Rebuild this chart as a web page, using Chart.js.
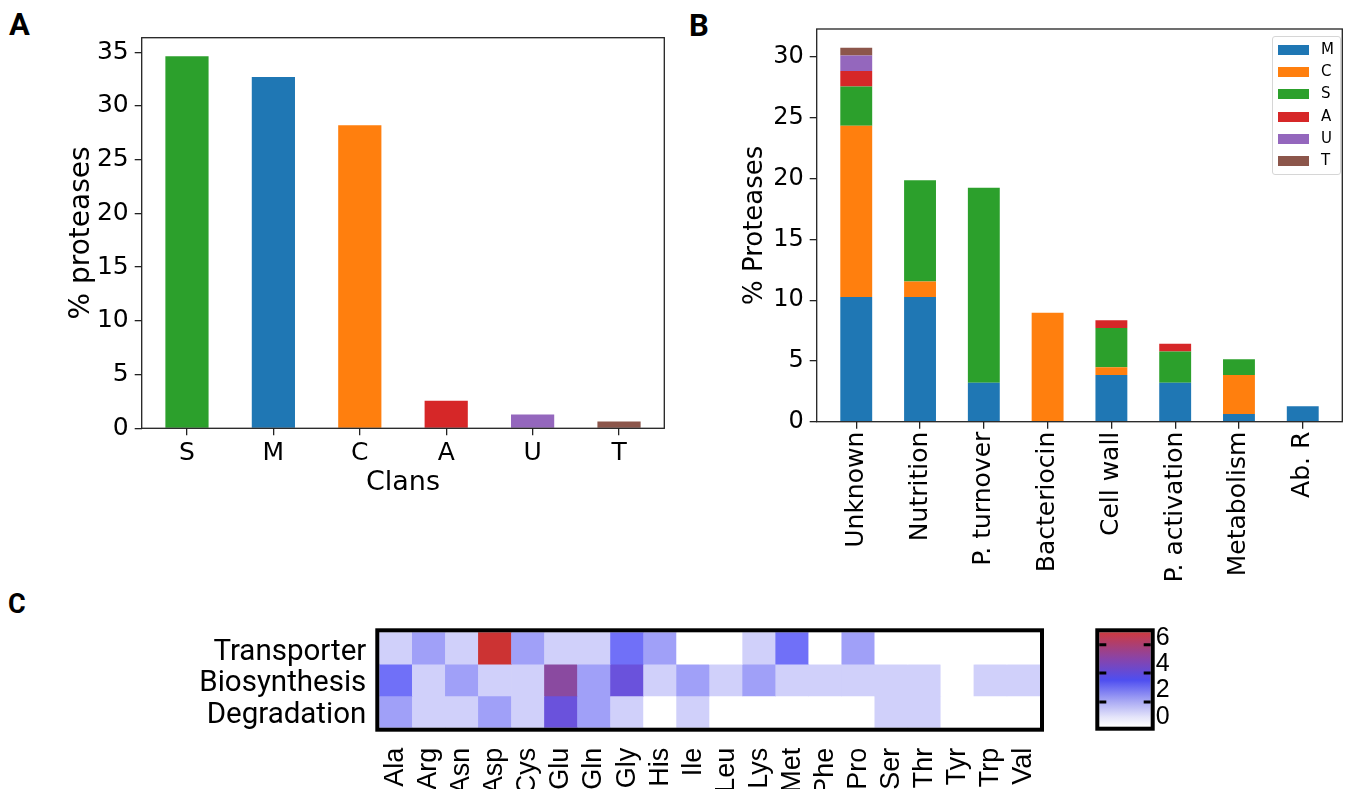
<!DOCTYPE html>
<html>
<head>
<meta charset="utf-8">
<script src="https://cdn.jsdelivr.net/npm/chart.js@4.4.1/dist/chart.umd.min.js"></script>
<style>
  html, body { margin: 0; padding: 0; background: #fff; }
  body { width: 1350px; height: 789px; position: relative; overflow: hidden; }
  canvas { position: absolute; }
  .panel { position: absolute; font-family: Roboto, sans-serif; font-weight: 700; line-height: 1; color: #000; }
  #legendB { position: absolute; left: 1272px; top: 36px; width: 69px; height: 139px; box-sizing: border-box;
             border: 1px solid #d6d6d6; border-radius: 3px; background: rgba(255,255,255,0.8); }
  .lg-patch { position: absolute; left: 5px; width: 31px; height: 10px; }
  .lg-text { position: absolute; left: 48px; font-family: 'DejaVu Sans', sans-serif; font-size: 15px; line-height: 1; }
</style>
</head>
<body>
<div class="panel" style="left:9px;top:9px;font-size:31px">A</div>
<div class="panel" style="left:689px;top:10px;font-size:31px">B</div>
<div class="panel" style="left:8px;top:591px;font-size:27px">C</div>

<canvas id="chartA" width="680" height="500" style="left:0;top:0"></canvas>
<canvas id="chartB" width="670" height="600" style="left:680px;top:0"></canvas>
<canvas id="chartC" width="1070" height="209" style="left:0;top:580px"></canvas>
<canvas id="chartBar" width="280" height="209" style="left:1070px;top:580px"></canvas>
<div id="legendB"></div>

<script>
// panel A: share of proteases per clan
const clans = ['S', 'M', 'C', 'A', 'U', 'T'];
const clanPercent = [34.62, 32.69, 28.21, 2.56, 1.28, 0.64];
const yTicksA = [0, 5, 10, 15, 20, 25, 30, 35];

// panel B: role of proteases, stacked by clan
const roles = ['Unknown', 'Nutrition', 'P. turnover', 'Bacteriocin', 'Cell wall', 'P. activation', 'Metabolism', 'Ab. R'];
const stackOrder = ['M', 'C', 'S', 'A', 'U', 'T'];
const roleM = [10.26, 10.26, 3.21, 0, 3.85, 3.21, 0.64, 1.28];
const roleC = [14.10, 1.28, 0, 8.97, 0.64, 0, 3.21, 0];
const roleS = [3.21, 8.33, 16.03, 0, 3.21, 2.56, 1.28, 0];
const roleA = [1.28, 0, 0, 0, 0.64, 0.64, 0, 0];
const roleU = [1.28, 0, 0, 0, 0, 0, 0, 0];
const roleT = [0.64, 0, 0, 0, 0, 0, 0, 0];
const yTicksB = [0, 5, 10, 15, 20, 25, 30];

// panel C: amino acid heatmap
const aminoAcids = ['Ala', 'Arg', 'Asn', 'Asp', 'Cys', 'Glu', 'Gln', 'Gly', 'His', 'Ile',
                    'Leu', 'Lys', 'Met', 'Phe', 'Pro', 'Ser', 'Thr', 'Tyr', 'Trp', 'Val'];
const heatRowNames = ['Transporter', 'Biosynthesis', 'Degradation'];
const transporter  = [1, 2, 1, 6, 2, 1, 1, 3, 2, 0, 0, 1, 3, 0, 2, 0, 0, 0, 0, 0];
const biosynthesis = [3, 1, 2, 1, 1, 5, 2, 4, 1, 2, 1, 2, 1, 1, 1, 1, 1, 0, 1, 1];
const degradation  = [2, 1, 1, 2, 1, 4, 2, 1, 0, 1, 0, 0, 0, 0, 0, 1, 1, 0, 0, 0];
const cbTicks = [0, 2, 4, 6];
const cbMin = -0.74, cbMax = 6.42;

// styles
const clanColor = { M: '#1f77b4', C: '#ff7f0e', S: '#2ca02c', A: '#d62728', U: '#9467bd', T: '#8c564b' };
const cellStops = [[0, '#ffffff'], [1, '#d0d0fa'], [2, '#a0a0f8'], [3, '#7070f8'], [4, '#6a52dc'], [5, '#8a4aa0'], [6, '#cc3333']];
const cbStops = [[-0.74, '#ffffff'], [0, '#e4e4fa'], [1.2, '#a8a8f4'], [2.8, '#4e4ef0'], [4.4, '#8844aa'], [6.42, '#cc3a40']];
const cbMarks = [1.14, 3.34, 5.47];
const dv = "'DejaVu Sans'";

Chart.defaults.color = '#000';

function hexRgb(h) {
  return [1, 3, 5].map(i => parseInt(h.slice(i, i + 2), 16));
}

function cellColor(v) {
  if (v <= cellStops[0][0]) return cellStops[0][1];
  for (let i = 1; i < cellStops.length; i++) {
    const [v1, c1] = cellStops[i];
    if (v <= v1) {
      const [v0, c0] = cellStops[i - 1];
      const t = (v - v0) / (v1 - v0);
      const a = hexRgb(c0), b = hexRgb(c1);
      return 'rgb(' + a.map((x, k) => Math.round(x + (b[k] - x) * t)).join(',') + ')';
    }
  }
  return cellStops[cellStops.length - 1][1];
}

// box around the plot area, like matplotlib spines
const framePlugin = {
  id: 'frame',
  afterDatasetsDraw(chart, args, opts) {
    const { ctx, chartArea: a } = chart;
    const o = opts.outset || 0;
    ctx.save();
    ctx.strokeStyle = opts.color;
    ctx.lineWidth = opts.width;
    ctx.strokeRect(a.left - o, a.top - o, a.right - a.left + 2 * o, a.bottom - a.top + 2 * o);
    ctx.restore();
  }
};

// little black marks on the inside edges of the colour bar
const marksPlugin = {
  id: 'cbMarks',
  afterDatasetsDraw(chart, args, opts) {
    const { ctx, chartArea: a, scales } = chart;
    ctx.save();
    ctx.strokeStyle = '#000';
    ctx.lineWidth = 3;
    opts.values.forEach(v => {
      const py = scales.y.getPixelForValue(v);
      ctx.beginPath();
      ctx.moveTo(a.left, py); ctx.lineTo(a.left + 7, py);
      ctx.moveTo(a.right - 7, py); ctx.lineTo(a.right, py);
      ctx.stroke();
    });
    ctx.restore();
  }
};

const tickGrid = { display: true, drawOnChartArea: false, drawTicks: true, tickLength: 7, color: '#222', lineWidth: 1.3, offset: false };

// ---- A ----
new Chart(document.getElementById('chartA'), {
  type: 'bar',
  data: {
    datasets: [{
      data: clans.map((c, i) => ({ x: i, y: clanPercent[i] })),
      backgroundColor: clans.map(c => clanColor[c]),
      barPercentage: 0.5,
      categoryPercentage: 1,
      inflateAmount: 0
    }]
  },
  options: {
    responsive: false,
    devicePixelRatio: 1,
    animation: false,
    layout: { padding: { left: 64.5, top: 37.7, right: 15.7, bottom: 0.5 } },
    scales: {
      x: {
        type: 'linear', min: -0.524, max: 5.524, bounds: 'data', offset: false,
        afterBuildTicks: s => { s.ticks = clans.map((c, i) => ({ value: i })); },
        afterFit: s => { s.height = 71.2; },
        ticks: { callback: v => clans[v], font: { family: dv, size: 25 }, padding: 3, maxRotation: 0, autoSkip: false },
        grid: tickGrid,
        border: { display: false },
        title: { display: true, text: 'Clans', font: { family: dv, size: 27 }, padding: 0 }
      },
      y: {
        min: 0, max: 36.35, bounds: 'data',
        afterBuildTicks: s => { s.ticks = yTicksA.map(v => ({ value: v })); },
        afterFit: s => { s.width = 77.2; },
        ticks: { font: { family: dv, size: 25 }, padding: 6, autoSkip: false },
        grid: tickGrid,
        border: { display: false },
        title: { display: true, text: '% proteases', font: { family: dv, size: 28 }, padding: 0 }
      }
    },
    plugins: {
      legend: { display: false },
      tooltip: { enabled: false },
      frame: { color: '#222', width: 1.3 }
    }
  },
  plugins: [framePlugin]
});

// ---- B ----
const roleSeries = { M: roleM, C: roleC, S: roleS, A: roleA, U: roleU, T: roleT };
new Chart(document.getElementById('chartB'), {
  type: 'bar',
  data: {
    datasets: stackOrder.map(k => ({
      label: k,
      data: roleSeries[k].map((v, i) => ({ x: i, y: v })),
      backgroundColor: clanColor[k],
      barPercentage: 0.5,
      categoryPercentage: 1,
      inflateAmount: 0
    }))
  },
  options: {
    responsive: false,
    devicePixelRatio: 1,
    animation: false,
    layout: { padding: { left: 60, top: 29, right: 7.7, bottom: 0 } },
    scales: {
      x: {
        type: 'linear', min: -0.62, max: 7.62, bounds: 'data', offset: false, stacked: true,
        afterBuildTicks: s => { s.ticks = roles.map((r, i) => ({ value: i })); },
        afterFit: s => { s.height = 178.3; },
        ticks: { callback: v => roles[v], font: { family: dv, size: 25 }, padding: 3, minRotation: 90, maxRotation: 90, autoSkip: false },
        grid: tickGrid,
        border: { display: false }
      },
      y: {
        min: 0, max: 32.31, bounds: 'data', stacked: true,
        afterBuildTicks: s => { s.ticks = yTicksB.map(v => ({ value: v })); },
        afterFit: s => { s.width = 76.7; },
        ticks: { font: { family: dv, size: 24 }, padding: 6, autoSkip: false },
        grid: tickGrid,
        border: { display: false },
        title: { display: true, text: '% Proteases', font: { family: dv, size: 26 }, padding: 0 }
      }
    },
    plugins: {
      legend: { display: false },
      tooltip: { enabled: false },
      frame: { color: '#222', width: 1.3 }
    }
  },
  plugins: [framePlugin]
});

// legend for B, inside the plot area at the upper right
const legendBox = document.getElementById('legendB');
stackOrder.forEach((k, i) => {
  const cy = 13 + i * 22.2;
  const patch = document.createElement('div');
  patch.className = 'lg-patch';
  patch.style.top = (cy - 5) + 'px';
  patch.style.background = clanColor[k];
  const txt = document.createElement('div');
  txt.className = 'lg-text';
  txt.style.top = (cy - 8) + 'px';
  txt.textContent = k;
  legendBox.appendChild(patch);
  legendBox.appendChild(txt);
});

// ---- C: heatmap ----
const heatRows = [transporter, biosynthesis, degradation];
new Chart(document.getElementById('chartC'), {
  type: 'bar',
  data: {
    labels: aminoAcids,
    datasets: heatRows.map((vals, r) => ({
      data: vals.map(() => [r - 0.5, r + 0.5]),
      backgroundColor: vals.map(cellColor),
      grouped: false,
      barPercentage: 1,
      categoryPercentage: 1
    }))
  },
  options: {
    responsive: false,
    devicePixelRatio: 1,
    animation: false,
    layout: { padding: { left: 0, top: 52.3, right: 30, bottom: 0 } },
    scales: {
      x: {
        type: 'category', offset: true,
        afterFit: s => { s.height = 61.3; },
        ticks: { font: { family: "'Liberation Sans'", size: 27 }, padding: 12, minRotation: 90, maxRotation: 90, autoSkip: false },
        grid: { display: false },
        border: { display: false }
      },
      y: {
        type: 'linear', min: -0.5, max: 2.5, bounds: 'data', reverse: true,
        afterBuildTicks: s => { s.ticks = heatRowNames.map((n, i) => ({ value: i })); },
        afterFit: s => { s.width = 379.3; },
        ticks: { callback: v => heatRowNames[v], font: { family: 'Roboto', size: 29.5 }, padding: 5, labelOffset: 4, autoSkip: false },
        grid: { display: false },
        border: { display: false }
      }
    },
    plugins: {
      legend: { display: false },
      tooltip: { enabled: false },
      frame: { color: '#000', width: 4, outset: 2 }
    }
  },
  plugins: [framePlugin]
});

// ---- colour bar ----
new Chart(document.getElementById('chartBar'), {
  type: 'bar',
  data: {
    labels: ['scale'],
    datasets: [{
      data: [[cbMin, cbMax]],
      backgroundColor: (c) => {
        const ch = c.chart;
        if (!ch.chartArea) return '#ffffff';
        const y = ch.scales.y;
        const g = ch.ctx.createLinearGradient(0, y.getPixelForValue(cbMin), 0, y.getPixelForValue(cbMax));
        cbStops.forEach(([v, col]) => g.addColorStop((v - cbMin) / (cbMax - cbMin), col));
        return g;
      },
      barPercentage: 1,
      categoryPercentage: 1
    }]
  },
  options: {
    responsive: false,
    devicePixelRatio: 1,
    animation: false,
    layout: { padding: { left: 29.3, top: 52.3, right: 0, bottom: 62.3 } },
    scales: {
      x: { display: false },
      y: {
        position: 'right', min: cbMin, max: cbMax, bounds: 'data',
        afterBuildTicks: s => { s.ticks = cbTicks.map(v => ({ value: v })); },
        afterFit: s => { s.width = 199.3; },
        ticks: { font: { family: "'Liberation Sans'", size: 25 }, padding: 5, autoSkip: false },
        grid: { display: false, drawTicks: false },
        border: { display: false }
      }
    },
    plugins: {
      legend: { display: false },
      tooltip: { enabled: false },
      frame: { color: '#000', width: 4, outset: 2 },
      cbMarks: { values: cbMarks }
    }
  },
  plugins: [framePlugin, marksPlugin]
});
</script>
</body>
</html>
